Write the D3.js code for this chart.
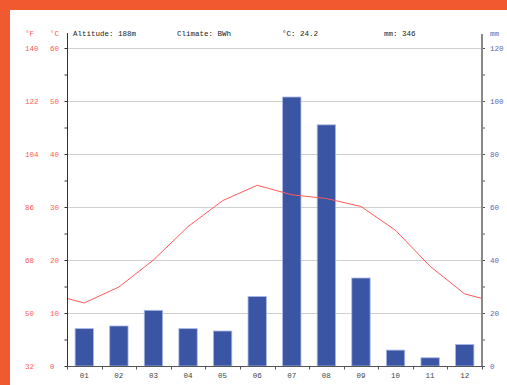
<!DOCTYPE html>
<html><head><meta charset="utf-8">
<script src="https://cdn.jsdelivr.net/npm/d3@7"></script>
<style>html,body{margin:0;padding:0;background:#fff;}svg{display:block;}</style>
</head><body>
<script>
const months = ["01","02","03","04","05","06","07","08","09","10","11","12"];
const tempC = [11.9,14.9,20.0,26.3,31.2,34.1,32.3,31.6,30.1,25.6,18.8,13.6];
const precipMm = [14.1,15.1,21.0,14.1,13.2,26.2,101.5,91.0,33.2,6.0,3.1,8.1];
const cTicks = [0,10,20,30,40,50,60];
const fTicks = [32,50,68,86,104,122,140];
const mmTicks = [0,20,40,60,80,100,120];
const headerTexts = ["Altitude: 188m","Climate: BWh","°C: 24.2","mm: 346"];

const W=507,H=385;
const L=67,R=482,T=48,B=366;
const svg=d3.select("body").append("svg").attr("width",W).attr("height",H);
const font="'Liberation Mono', 'DejaVu Sans Mono', monospace";
const red="#ff5a5a", blue="#5566bb";

svg.append("rect").attr("width",W).attr("height",H).attr("fill","#fff");
svg.append("rect").attr("x",0).attr("y",0).attr("width",W).attr("height",10).attr("fill","#f15a31");
svg.append("rect").attr("x",0).attr("y",0).attr("width",10).attr("height",H).attr("fill","#f15a31");

const x=d3.scaleBand().domain(months).range([L,R]);
const yC=d3.scaleLinear().domain([0,60]).range([B,T]);
const yMm=d3.scaleLinear().domain([0,120]).range([B,T]);

// gridlines
svg.append("g").selectAll("line").data(cTicks.filter(d=>d>0)).join("line")
  .attr("x1",L).attr("x2",R).attr("y1",d=>Math.round(yC(d))+0.5).attr("y2",d=>Math.round(yC(d))+0.5)
  .attr("stroke","#d0d0d0").attr("stroke-width",1);

// bars
svg.append("g").selectAll("rect").data(precipMm).join("rect")
  .attr("x",(d,i)=>x(months[i])+x.bandwidth()*0.235)
  .attr("width",x.bandwidth()*0.53)
  .attr("y",d=>yMm(d)).attr("height",d=>B-yMm(d))
  .attr("fill","#3a55a4").attr("stroke","#a8b6e4").attr("stroke-width",0.8);

// temperature line
const edge=(tempC[0]+tempC[11])/2;
const pts=[[L,edge]].concat(tempC.map((d,i)=>[x(months[i])+x.bandwidth()/2,d])).concat([[R,edge]]);
svg.append("path").datum(pts)
  .attr("d",d3.line().x(d=>d[0]).y(d=>yC(d[1])))
  .attr("fill","none").attr("stroke","#ff5a5a").attr("stroke-width",1);

// left axis
const gl=svg.append("g").attr("transform",`translate(${L+0.5},0)`);
gl.call(d3.axisLeft(yC).tickValues(d3.range(0,61,5)).tickSize(3).tickFormat(""));
gl.select(".domain").remove();
gl.selectAll("line").attr("stroke","#333");
svg.append("line").attr("x1",L+0.5).attr("x2",L+0.5).attr("y1",33).attr("y2",B).attr("stroke","#333").attr("stroke-width",1);

// right axis
const gr=svg.append("g").attr("transform",`translate(${R},0)`);
gr.call(d3.axisRight(yMm).tickValues(d3.range(0,121,10)).tickSize(3).tickFormat(""));
gr.select(".domain").remove();
gr.selectAll("line").attr("stroke","#555");
svg.append("line").attr("x1",R).attr("x2",R).attr("y1",34).attr("y2",B).attr("stroke","#888").attr("stroke-width",2);

// bottom axis
const gb=svg.append("g").attr("transform",`translate(0,${B+0.5})`);
gb.append("line").attr("x1",L).attr("x2",R).attr("stroke","#555");
gb.selectAll("line.t").data(d3.range(0,13)).join("line").attr("class","t")
  .attr("x1",i=>Math.round(L+i*x.step())+0.5).attr("x2",i=>Math.round(L+i*x.step())+0.5)
  .attr("y1",0).attr("y2",3).attr("stroke","#555");
gb.selectAll("text").data(months).join("text")
  .attr("x",d=>x(d)+x.bandwidth()/2).attr("y",11)
  .attr("text-anchor","middle").attr("font-family",font).attr("font-size",7.5).attr("fill","#444").text(d=>d);

// tick labels
svg.append("g").selectAll("text").data(cTicks).join("text")
  .attr("x",50).attr("y",d=>yC(d)+2.7).attr("font-family",font).attr("font-size",7.5).attr("fill",red).text(d=>d);
svg.append("g").selectAll("text").data(fTicks).join("text")
  .attr("x",25).attr("y",(d,i)=>yC(cTicks[i])+2.7).attr("font-family",font).attr("font-size",7.5).attr("fill",red).text(d=>d);
svg.append("g").selectAll("text").data(mmTicks).join("text")
  .attr("x",490).attr("y",d=>yMm(d)+2.7).attr("font-family",font).attr("font-size",7.5).attr("fill",blue).text(d=>d);

// header
svg.append("text").attr("x",25).attr("y",36).attr("font-family",font).attr("font-size",7.5).attr("fill",red).text("°F");
svg.append("text").attr("x",50).attr("y",36).attr("font-family",font).attr("font-size",7.5).attr("fill",red).text("°C");
svg.append("text").attr("x",490).attr("y",36).attr("font-family",font).attr("font-size",7.5).attr("fill",blue).text("mm");
const hx=[73,177,282,384];
svg.append("g").selectAll("text").data(headerTexts).join("text")
  .attr("x",(d,i)=>hx[i]).attr("y",36).attr("font-family",font).attr("font-size",7.5).attr("fill","#222").text(d=>d);
</script>
</body></html>
